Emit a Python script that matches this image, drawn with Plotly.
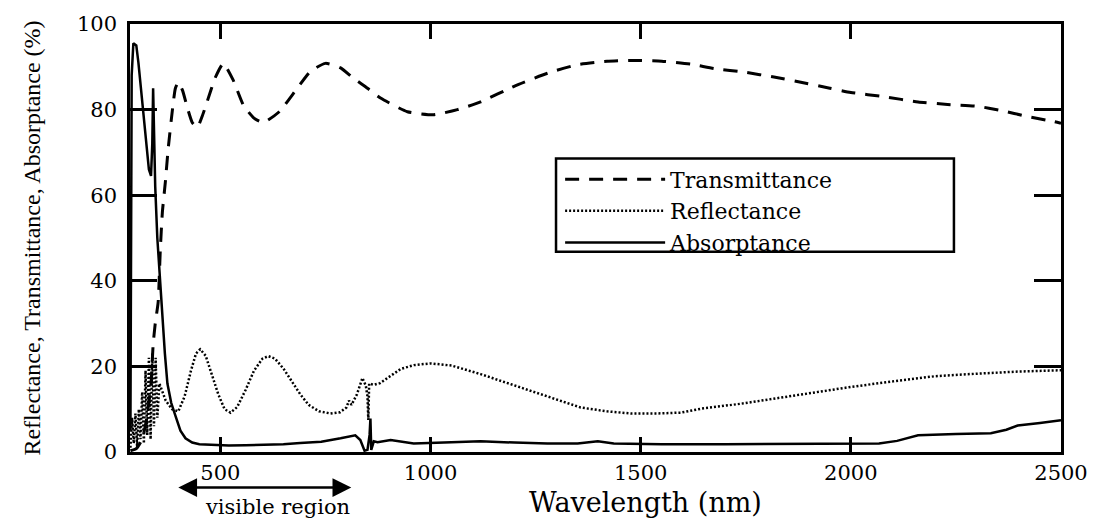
import plotly.graph_objects as go

# Wavelength grids (nm) and spectra (%)
wl_T = [286, 300, 314, 325, 335, 340, 345, 352, 357, 362, 369, 376, 386, 393, 400,
        410, 421, 433, 445, 457, 469, 488, 507, 530, 555, 580, 602, 640, 683, 715,
        750, 785, 817, 850, 881, 945, 1007, 1064, 1119, 1200, 1278, 1350, 1420, 1483,
        1550, 1620, 1674, 1750, 1817, 1881, 1950, 2000, 2080, 2160, 2230, 2300, 2357,
        2420, 2483, 2500]
transmittance = [0.3, 0.8, 3, 8, 16, 25, 30, 35, 47, 56, 63, 71, 80, 85, 86.4,
                 84.5, 80.6, 77, 75.8, 78.5, 82, 87.5, 90.8, 87, 81, 78, 77, 79.5, 85, 89,
                 90.8, 89.8, 87.3, 85, 82.7, 79.5, 78.8, 80, 81.8, 85.5, 88.5, 90.5, 91.3, 91.5,
                 91.3, 90.6, 89.6, 88.7, 87.6, 86.4, 85, 84, 83, 81.8, 81.2, 80.8, 79.8,
                 78.4, 77.2, 76.8]

wl_R = [286, 290, 294, 298, 302, 306, 310, 314, 318, 322, 326, 330, 334, 338, 342,
        346, 350, 355, 370, 385, 400, 415, 430, 442, 452, 465, 480, 495, 510, 524,
        540, 560, 580, 600, 614, 630, 650, 670, 690, 710, 735, 762, 785, 800, 806,
        812, 825, 838, 846, 850, 852, 854, 864, 880, 900, 929, 960, 1000, 1050, 1119,
        1180, 1238, 1300, 1357, 1420, 1476, 1540, 1595, 1643, 1740, 1833, 1920, 2000,
        2100, 2200, 2300, 2400, 2500]
reflectance = [1, 8, 2, 9, 1, 10, 3, 14, 2, 19, 4, 22, 3, 23, 6,
               22, 8, 16, 12, 10, 9.5, 13, 19, 23, 24, 22.5, 18, 13.5, 10, 9.2,
               10.5, 14.5, 19, 21.8, 22.4, 21.8, 19.5, 16.5, 13.5, 11, 9.5, 9, 9.3, 10.4, 12,
               11, 13.5, 17.3, 15.5, 13, 7.5, 16, 15.7, 16.1, 17.5, 19.4, 20.3, 20.7, 20.2, 18.2,
               16.2, 14.3, 12.3, 10.4, 9.5, 9, 9, 9.2, 10.1, 11.3, 12.7, 14, 15.2,
               16.5, 17.7, 18.3, 18.8, 19.1]

wl_A = [286, 289, 293, 300, 305, 310, 315, 320, 325, 330, 335, 338, 340, 342, 345,
        350, 355, 362, 368, 374, 383, 393, 405, 417, 433, 450, 480, 520, 560, 600,
        650, 690, 740, 786, 805, 821, 833, 840, 843, 850, 855, 857, 859, 865, 874,
        905, 960, 1050, 1119, 1200, 1278, 1350, 1398, 1436, 1550, 1700, 1850, 2000,
        2067, 2110, 2160, 2250, 2333, 2370, 2397, 2450, 2500]
absorptance = [5, 88, 95.5, 95, 91, 86, 80, 75, 70, 66, 64.5, 72, 85, 72, 62,
               50, 42, 31.6, 23, 16, 11.5, 8.5, 5, 3.2, 2.2, 1.8, 1.6, 1.5, 1.6, 1.7,
               1.8, 2.1, 2.4, 3.2, 3.5, 3.9, 2.8, 0.9, 0.3, 0.5, 4, 7.8, 0.5, 2.5, 2.3,
               2.8, 2, 2.3, 2.5, 2.2, 2, 2, 2.5, 2, 1.8, 1.8, 1.9, 2,
               2, 2.6, 3.9, 4.2, 4.4, 5.2, 6.2, 6.8, 7.4]

x_ticks = [500, 1000, 1500, 2000, 2500]
y_ticks = [0, 20, 40, 60, 80, 100]
visible_band = [400, 815]

serif_wide = "DejaVu Serif"
serif = "Liberation Serif"

fig = go.Figure()
fig.add_trace(go.Scatter(x=wl_T, y=transmittance, name="Transmittance", mode="lines",
                         line=dict(color="black", width=3, dash="14px,10px", shape="spline", smoothing=0.5)))
fig.add_trace(go.Scatter(x=wl_R, y=reflectance, name="Reflectance", mode="lines",
                         line=dict(color="black", width=2.5, dash="2px,2px")))
fig.add_trace(go.Scatter(x=wl_A, y=absorptance, name="Absorptance", mode="lines",
                         line=dict(color="black", width=2.5)))

axis_common = dict(showline=True, linecolor="black", linewidth=2.5, mirror="ticks",
                   ticks="inside", tickcolor="black", tickwidth=2.5,
                   showgrid=False, zeroline=False,
                   tickfont=dict(family=serif_wide, size=21, color="black"))

fig.update_xaxes(range=[285, 2500], tickvals=x_ticks, ticklen=15, **axis_common)
fig.update_yaxes(range=[0, 100], tickvals=y_ticks, ticklen=27, ticklabelstandoff=6,
                 title=dict(text="Reflectance, Transmittance, Absorptance (%)",
                            font=dict(family=serif, size=24, color="black"), standoff=30),
                 **axis_common)

# Legend frame
fig.add_shape(type="rect", xref="paper", yref="paper",
              x0=0.4576, x1=0.885, y0=0.468, y1=0.686,
              line=dict(color="black", width=2.5), fillcolor="white", layer="above")

fig.update_layout(
    width=1104, height=520,
    margin=dict(l=130, r=43, t=18, b=68),
    paper_bgcolor="white", plot_bgcolor="white",
    showlegend=True,
    legend=dict(x=0.462, y=0.686, xanchor="left", yanchor="top",
                bgcolor="rgba(0,0,0,0)", borderwidth=0, itemwidth=100,
                font=dict(family=serif_wide, size=22, color="black"),
                tracegroupgap=0, itemclick=False),
    annotations=[
        dict(text="Wavelength (nm)", xref="paper", yref="paper", x=0.554, y=-0.118,
             xanchor="center", yanchor="middle", showarrow=False,
             font=dict(family=serif_wide, size=27, color="black")),
        dict(text="", x=visible_band[0], xref="x", y=-0.083, yref="paper",
             ax=visible_band[1], axref="x", ay=0, ayref="pixel",
             showarrow=True, arrowhead=2, startarrowhead=2, arrowside="end+start",
             arrowwidth=2.5, arrowsize=1.5, startarrowsize=1.5, arrowcolor="black"),
        dict(text="visible region", xref="paper", yref="paper", x=0.158, y=-0.128,
             xanchor="center", yanchor="middle", showarrow=False,
             font=dict(family=serif_wide, size=21, color="black")),
    ],
)

fig.write_html("out.html")
